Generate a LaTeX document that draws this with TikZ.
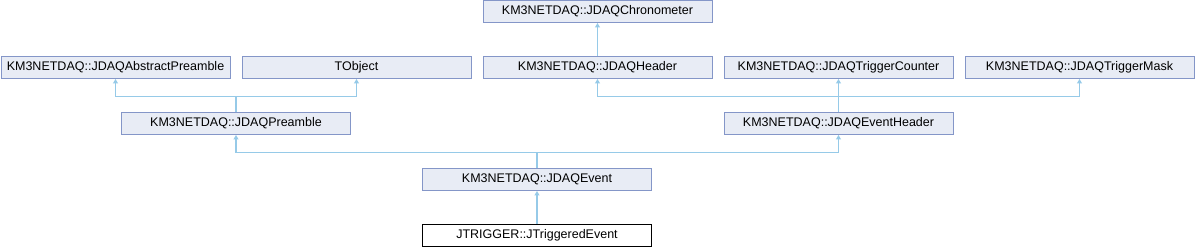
\documentclass[tikz,border=0pt]{standalone}
\usepackage{fontspec}
\setmainfont{Liberation Sans}
\usetikzlibrary{arrows.meta}
\definecolor{clsfill}{RGB}{232,236,245}
\definecolor{clsdraw}{RGB}{132,150,200}
\definecolor{inhline}{RGB}{150,202,232}

\begin{document}
\begin{tikzpicture}[x=1pt, y=-1pt,
    cls/.style={draw=clsdraw, fill=clsfill, line width=1pt,
                minimum width=229pt, minimum height=22pt, inner sep=0pt,
                font=\fontsize{12.5}{14}\selectfont},
    self/.style={cls, draw=black, fill=white},
    inh/.style={draw=inhline, line width=1.2pt,
                -{Triangle[length=4.5pt, width=5pt]}}]
  \useasboundingbox (0,0) rectangle (1195,248);
  % top row
  \node[cls] (chrono)   at (597.5, 11.5) {KM3NETDAQ::JDAQChronometer};
  % base classes
  \node[cls] (abspre)   at (115.5, 67.5) {KM3NETDAQ::JDAQAbstractPreamble};
  \node[cls] (tobj)     at (356.5, 67.5) {TObject};
  \node[cls] (header)   at (597.5, 67.5) {KM3NETDAQ::JDAQHeader};
  \node[cls] (trigcnt)  at (838.5, 67.5) {KM3NETDAQ::JDAQTriggerCounter};
  \node[cls] (trigmask) at (1079.5,67.5) {KM3NETDAQ::JDAQTriggerMask};
  % intermediate classes
  \node[cls] (preamble) at (236, 123.5)  {KM3NETDAQ::JDAQPreamble};
  \node[cls] (evhdr)    at (838.5,123.5) {KM3NETDAQ::JDAQEventHeader};
  \node[cls] (event)    at (537, 179.5)  {KM3NETDAQ::JDAQEvent};
  \node[self] (jtrig)   at (537, 235.5)  {JTRIGGER::JTriggeredEvent};

  \draw[inh] (header) -- (chrono);
  \foreach \p in {abspre, tobj}
    \draw[inh] (preamble.north) -- ++(0,-15.5) -| (\p.south);
  \foreach \p in {header, trigcnt, trigmask}
    \draw[inh] (evhdr.north) -- ++(0,-15.5) -| (\p.south);
  \foreach \p in {preamble, evhdr}
    \draw[inh] (event.north) -- ++(0,-15.5) -| (\p.south);
  \draw[inh] (jtrig) -- (event);
\end{tikzpicture}
\end{document}
